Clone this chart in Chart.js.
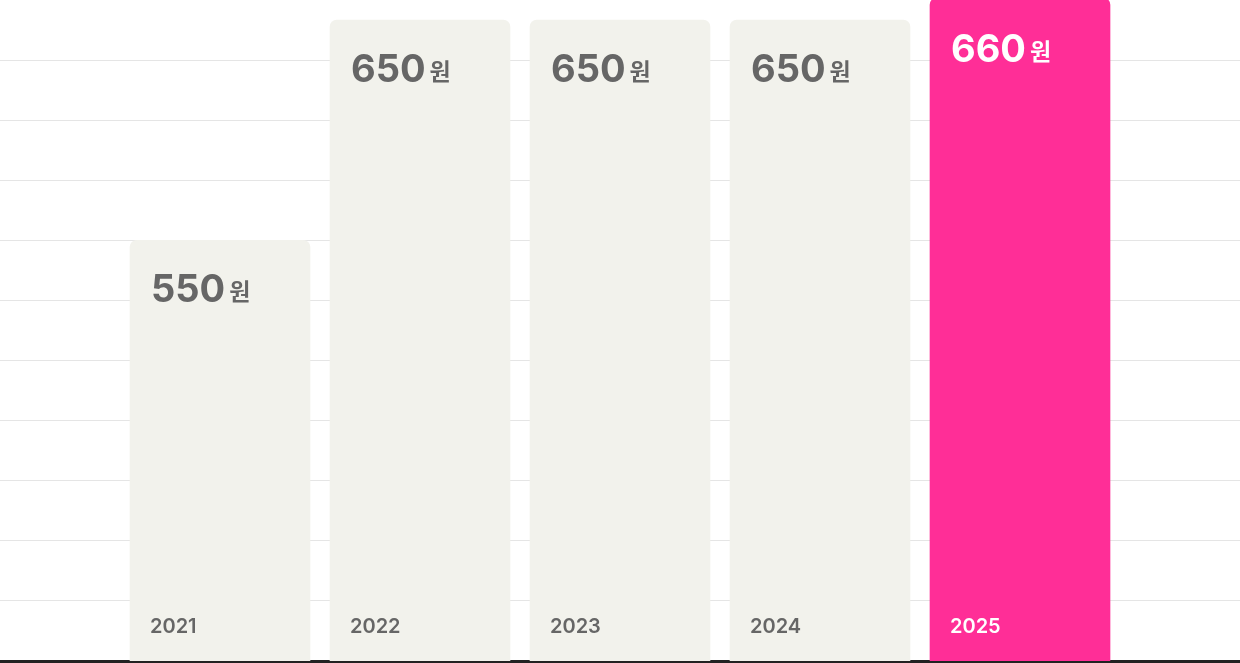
<!DOCTYPE html>
<html>
<head>
<meta charset="utf-8">
<script src="https://cdn.jsdelivr.net/npm/chart.js@4"></script>
<style>
  html, body { margin: 0; padding: 0; background: #fff; }
  #wrap { width: 1240px; height: 663px; }
</style>
</head>
<body>
<div id="wrap"><canvas id="priceChart"></canvas></div>
<script>
var years = ['2021', '2022', '2023', '2024', '2025'];
var prices = [550, 650, 650, 650, 660];
var unit = '원';
var barColors = ['#f2f2ec', '#f2f2ec', '#f2f2ec', '#f2f2ec', '#ff2e97'];
var textColors = ['#666666', '#666666', '#666666', '#666666', '#ffffff'];

// bars sit on a linear x axis so the grid can run the full width
var points = [];
for (var i in prices) {
    points.push({ x: Number(i), y: prices[i] });
}

var barLabels = {
    id: 'barLabels',
    afterDatasetsDraw: function(chart) {
        var ctx = chart.ctx;
        var meta = chart.getDatasetMeta(0);
        var top = chart.chartArea.top;
        var bottom = chart.chartArea.bottom;
        ctx.save();
        ctx.textBaseline = 'alphabetic';
        ctx.textAlign = 'left';
        meta.data.forEach(function(bar, i) {
            var left = bar.x - bar.width / 2 + 21;
            var barTop = Math.max(bar.y, top);
            ctx.fillStyle = textColors[i];

            ctx.font = '700 38px Inter, "Noto Sans CJK KR", sans-serif';
            var num = String(prices[i]);
            ctx.fillText(num, left, barTop + 62);
            var w = ctx.measureText(num).width;

            ctx.font = '700 23px "Noto Sans CJK KR", sans-serif';
            ctx.fillText(unit, left + w + 4, barTop + 60);

            ctx.font = '600 20px Inter, sans-serif';
            ctx.fillText(years[i], left - 1, bottom - 28);
        });
        ctx.restore();
    }
};

var chartdata = {
    datasets: [{
        data: points,
        backgroundColor: barColors,
        borderWidth: 0,
        borderRadius: 7,
        barThickness: 180,
        clip: { left: 0, top: false, right: 0, bottom: 0 }
    }]
};

new Chart(document.getElementById('priceChart'), {
    type: 'bar',
    data: chartdata,
    plugins: [barLabels],
    options: {
        responsive: true,
        maintainAspectRatio: false,
        animation: false,
        layout: { padding: { left: 0, right: 0, top: 0, bottom: 2 } },
        plugins: {
            legend: { display: false },
            tooltip: { enabled: false }
        },
        scales: {
            x: {
                type: 'linear',
                min: -1.1,
                max: 5.1,
                offset: false,
                z: 1,
                ticks: { display: false },
                grid: { display: false, drawTicks: false },
                border: { display: true, color: '#222222', width: 3 }
            },
            y: {
                min: 359.1,
                max: 659.1,
                ticks: { display: false, count: 12 },
                grid: {
                    drawTicks: false,
                    color: function(c) {
                        if (c.index === 0 || c.index === 11) return 'rgba(0,0,0,0)';
                        return '#e5e5e5';
                    },
                    lineWidth: 1
                },
                border: { display: false }
            }
        }
    }
});
</script>
</body>
</html>
